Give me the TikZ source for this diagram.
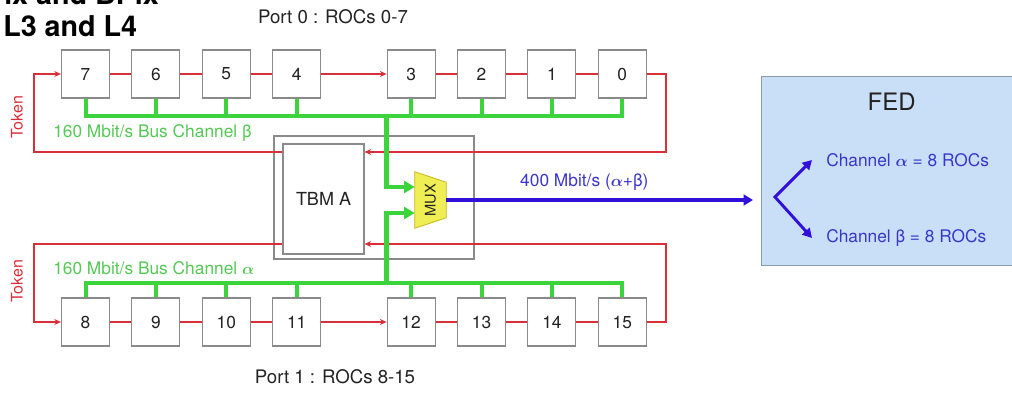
\documentclass[tikz,border=0pt]{standalone}
\usepackage{fontspec}
\setmainfont{TeX Gyre Heros}
\usepackage{amsmath}
\usepackage{bm}
\usetikzlibrary{arrows.meta,positioning}
\definecolor{Ink}{HTML}{222222}
\definecolor{BoxGray}{HTML}{8A8A8A}
\definecolor{TokenRed}{HTML}{D7303A}
\definecolor{BusGreen}{HTML}{3CD43C}
\definecolor{LabelGreen}{HTML}{55C855}
\definecolor{LinkBlue}{HTML}{3210DC}
\definecolor{TextBlue}{HTML}{3A36CC}
\definecolor{FedBlue}{HTML}{C9DFF7}
\definecolor{FedEdge}{HTML}{8C9AAA}
\definecolor{MuxYellow}{HTML}{F0EE55}
\definecolor{MuxEdge}{HTML}{C8B820}
\tikzset{
  roc/.style={
    draw=BoxGray, fill=white, line width=0.8pt, text=Ink,
    minimum size=36pt, inner sep=0pt, font=\fontsize{13}{15}\selectfont
  },
  tbmbox/.style={draw=BoxGray, line width=0.8pt, inner sep=0pt, text=Ink},
  muxbox/.style={inner sep=0pt, minimum width=23.25pt, minimum height=42pt},
  muxshape/.style={fill=MuxYellow, draw=MuxEdge, line width=0.6pt},
  fedbox/.style={fill=FedBlue, draw=FedEdge, line width=0.9pt, inner sep=0pt},
  tokenline/.style={draw=TokenRed, line width=0.9pt},
  tokenflow/.style={tokenline, -{Stealth[length=5pt,width=4.5pt]}},
  bus/.style={draw=BusGreen, line width=3pt},
  busflow/.style={draw=BusGreen, line width=3.4pt, -{Triangle[length=8pt,width=9pt]}},
  link/.style={draw=LinkBlue, line width=2.6pt, -{Triangle[length=7pt,width=8pt]}},
  forkflow/.style={draw=LinkBlue, line width=2.2pt, line join=miter,
    {Triangle[length=7pt,width=7.5pt]}-{Triangle[length=7pt,width=7.5pt]}},
  buslabel/.style={text=LabelGreen, font=\fontsize{13}{15}\selectfont, anchor=west, inner sep=0pt},
  linklabel/.style={text=TextBlue, font=\fontsize{13}{15}\selectfont, inner sep=0pt},
  portlabel/.style={text=Ink, font=\fontsize{14}{16}\selectfont, inner sep=0pt},
  tokenlabel/.style={text=TokenRed, rotate=90, font=\fontsize{12}{14}\selectfont, inner sep=0pt},
  titlelabel/.style={text=black, font=\bfseries\fontsize{21.5}{24}\selectfont, anchor=base west, inner sep=0pt}
}

\begin{document}
\begin{tikzpicture}[x=0.75pt,y=-0.75pt,node distance=16pt]
  \useasboundingbox (0,0) rectangle (1012,392);
  \node[titlelabel] (titletop) at (4,5) {ix and BPix};
  \node[titlelabel] (title) at (3,37) {L3 and L4};
  \node[portlabel] (port0) at (333,17) {Port 0 : ROCs 0-7};
  \node[portlabel] (port1) at (335,377) {Port 1 : ROCs 8-15};
  % port 0 ROCs
  \node[roc] (r7) at (85.5,74) {7};
  \node[roc,right=of r7] (r6) {6};
  \node[roc,right=of r6] (r5) {5};
  \node[roc,right=of r5] (r4) {4};
  \node[roc,right=49pt of r4] (r3) {3};
  \node[roc,right=of r3] (r2) {2};
  \node[roc,right=of r2] (r1) {1};
  \node[roc,right=of r1] (r0) {0};
  % port 1 ROCs
  \node[roc] (r8) at (85.5,322) {8};
  \node[roc,right=of r8] (r9) {9};
  \node[roc,right=of r9] (r10) {10};
  \node[roc,right=of r10] (r11) {11};
  \node[roc,right=49pt of r11] (r12) {12};
  \node[roc,right=of r12] (r13) {13};
  \node[roc,right=of r13] (r14) {14};
  \node[roc,right=of r14] (r15) {15};
  % TBM and MUX
  \node[tbmbox,minimum width=150pt,minimum height=92.25pt] (tbm) at (374,197.5) {};
  \node[tbmbox,minimum width=60.75pt,minimum height=82.5pt,
    font=\fontsize{13.5}{15}\selectfont] (tbmA) at (323.5,199) {TBM A};
  \node[muxbox] (mux) at (430.5,200) {};
  \filldraw[muxshape] (mux.north west) -- ([yshift=-7.9pt]mux.north east)
    -- ([yshift=7.9pt]mux.south east) -- (mux.south west) -- cycle;
  \node[rotate=90,text=Ink,inner sep=0pt,font=\fontsize{11}{13}\selectfont] (muxlabel) at (mux) {MUX};
  % FED
  \node[fedbox,anchor=north west,minimum width=195pt,minimum height=141.75pt] (fed) at (761,76) {};
  \node[text=Ink,font=\fontsize{18}{20}\selectfont,below=9.5pt of fed.north] (fedlabel) {FED};
  \node[linklabel,anchor=west] (cha) at (826,160) {Channel $\bm{\alpha}$ = 8 ROCs};
  \node[linklabel,anchor=west] (chb) at (826,238) {Channel β = 8 ROCs};
  \coordinate (fork) at (775,197);
  % token ring
  \coordinate (ptr) at (666,152);
  \coordinate (ptl) at (34,152);
  \coordinate (pbr) at (666,244);
  \coordinate (pbl) at (34,244);
  \draw[tokenline] (r7) -- (r6) (r6) -- (r5) (r5) -- (r4);
  \draw[tokenflow] (r4) -- (r3);
  \draw[tokenline] (r3) -- (r2) (r2) -- (r1) (r1) -- (r0);
  \draw[tokenline] (r8) -- (r9) (r9) -- (r10) (r10) -- (r11);
  \draw[tokenflow] (r11) -- (r12);
  \draw[tokenline] (r12) -- (r13) (r13) -- (r14) (r14) -- (r15);
  \draw[tokenflow] (r0.east) -| (ptr) -- (ptr -| tbmA.east);
  \draw[tokenflow] (ptl -| tbmA.west) -- (ptl) |- (r7.west);
  \draw[tokenflow] (r15.east) -| (pbr) -- (pbr -| tbmA.east);
  \draw[tokenflow] (pbl -| tbmA.west) -- (pbl) |- (r8.west);
  \node[tokenlabel] (token0) at (17,117) {Token};
  \node[tokenlabel] (token1) at (17,281) {Token};
  % readout buses
  \coordinate (busT) at (0,116);
  \coordinate (busB) at (0,283);
  \draw[bus] (r7.south) |- (r0.south |- busT) -- (r0.south)
    (r6.south) -- (r6.south |- busT) (r5.south) -- (r5.south |- busT)
    (r4.south) -- (r4.south |- busT) (r3.south) -- (r3.south |- busT)
    (r2.south) -- (r2.south |- busT) (r1.south) -- (r1.south |- busT);
  \draw[bus] (r8.north) |- (r15.north |- busB) -- (r15.north)
    (r9.north) -- (r9.north |- busB) (r10.north) -- (r10.north |- busB)
    (r11.north) -- (r11.north |- busB) (r12.north) -- (r12.north |- busB)
    (r13.north) -- (r13.north |- busB) (r14.north) -- (r14.north |- busB);
  \draw[busflow] (r3.south west |- busT) |- ([yshift=9.75pt]mux.west);
  \draw[busflow] (r12.north west |- busB) |- ([yshift=-9.75pt]mux.west);
  \node[buslabel] (beta) at (53,133) {160 Mbit/s Bus Channel β};
  \node[buslabel] (alpha) at (53,268) {160 Mbit/s Bus Channel $\bm{\alpha}$};
  % link to FED
  \draw[link] (mux.east) -- ([xshift=-6pt]fed.west |- mux.east)
    node[linklabel,pos=0.45,above=6pt] (rate) {400 Mbit/s ($\bm{\alpha}$+β)};
  \draw[forkflow] ([xshift=-10.5pt]cha.west) -- (fork) -- ([xshift=-10.5pt]chb.west);
\end{tikzpicture}
\end{document}
